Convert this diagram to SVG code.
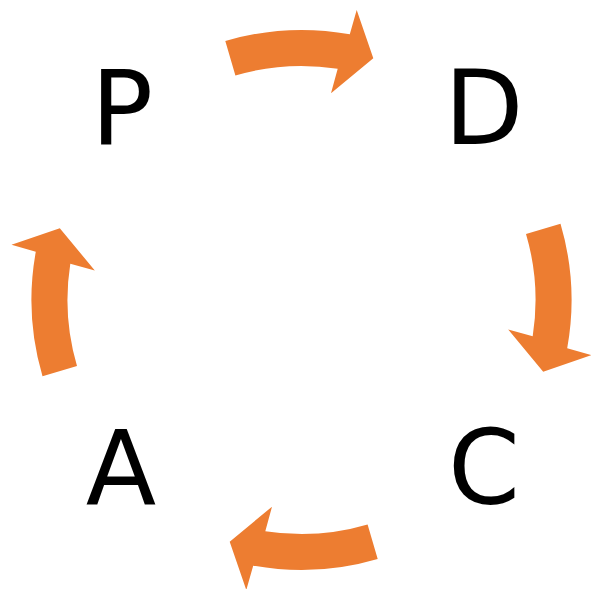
<svg xmlns="http://www.w3.org/2000/svg" width="591" height="589" viewBox="0 0 591 589">
<style>
.lbl{font-family:"DejaVu Sans",sans-serif;font-size:103px;fill:#000;text-anchor:middle}
.arr{fill:#ED7D31}
</style>
<defs>
<path id="arrow" class="arr" d="M225.3,41 A270,270 0 0 1 349.8,34.3 L356.7,10 L373.3,58.3 L331,93.3 L337.7,68.8 A234,234 0 0 0 235.4,75.5 Z"/>
</defs>
<rect width="591" height="589" fill="#fff"/>
<g id="connectors">
<use href="#arrow"/>
<use href="#arrow" transform="rotate(90 301.5 300)"/>
<use href="#arrow" transform="rotate(180 301.5 300)"/>
<use href="#arrow" transform="rotate(270 301.5 300)"/>
</g>
<g id="node-P"><text class="lbl" x="122" y="143.5">P</text></g>
<g id="node-D"><text class="lbl" x="484" y="143.5">D</text></g>
<g id="node-C"><text class="lbl" x="484" y="503.5">C</text></g>
<g id="node-A"><text class="lbl" x="121" y="503.5">A</text></g>
</svg>
